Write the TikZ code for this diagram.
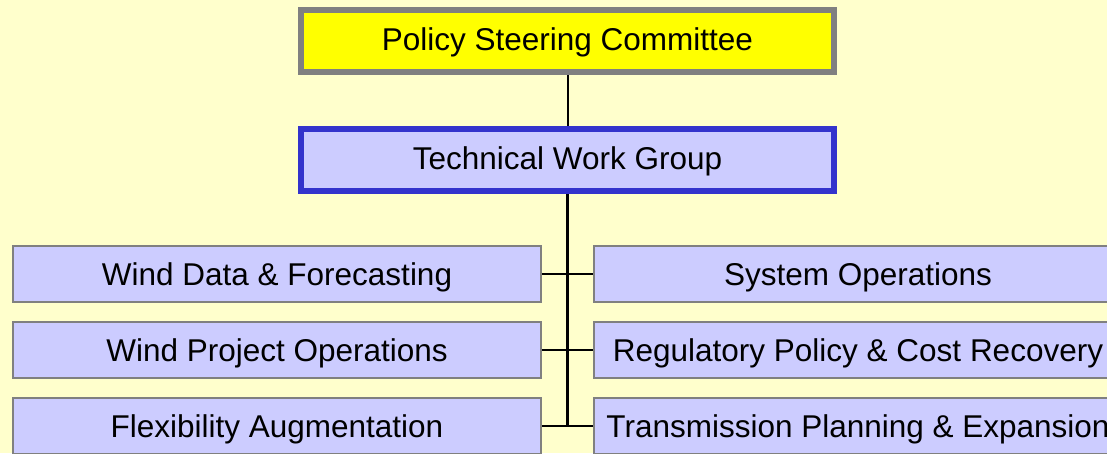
\documentclass[tikz,border=0pt]{standalone}
\usepackage{fontspec}
\setmainfont{Liberation Sans}
\definecolor{bg}{HTML}{FFFFCC}
\definecolor{lav}{HTML}{CCCCFF}
\definecolor{grayb}{HTML}{808080}
\definecolor{blueb}{HTML}{3333CC}
\definecolor{yel}{HTML}{FFFF00}
\begin{document}
\begin{tikzpicture}[x=1pt,y=-1pt,
  lbl/.style={font=\fontsize{31.5}{36}\selectfont, inner sep=0pt, text=black},
  topbox/.style={lbl, draw=grayb, line width=6pt, fill=yel, minimum width=533pt, minimum height=62pt, text height=22.5pt, text depth=4.5pt},
  twgbox/.style={lbl, draw=blueb, line width=6pt, fill=lav, minimum width=533pt, minimum height=62pt, text height=22.5pt, text depth=4.5pt},
  subbox/.style={lbl, draw=grayb, line width=2pt, fill=lav, minimum width=528pt, minimum height=56pt, text height=22.5pt, text depth=0.5pt},
  conn/.style={draw=black, line width=2pt},
  hconn/.style={draw=black, line width=2.5pt},
  trunk/.style={draw=black, line width=3.5pt}]
\useasboundingbox (0,0) rectangle (1107,453);
\clip (0,0) rectangle (1107,453);
\fill[bg] (0,0) rectangle (1107,453);
\node[topbox] (psc) at (567.5,41) {Policy Steering Committee};
\node[twgbox] (twg) at (567.5,160) {Technical Work Group};
\node[subbox] (l1) at (277,274) {Wind Data \& Forecasting};
\node[subbox] (l2) at (277,350) {Wind Project Operations};
\node[subbox] (l3) at (277,426) {Flexibility Augmentation};
\node[subbox] (r1) at (858,274) {System Operations};
\node[subbox] (r2) at (858,350) {Regulatory Policy \& Cost Recovery};
\node[subbox] (r3) at (858,426) {Transmission Planning \& Expansion};
\coordinate (tend) at (567.5,426);
\draw[conn] (psc.south) -- (twg.north);
\draw[trunk] (twg.south) -- (tend);
\draw[hconn] (l1.east) -- (r1.west);
\draw[hconn] (l2.east) -- (r2.west);
\draw[hconn] (l3.east) -- (r3.west);
\end{tikzpicture}
\end{document}
